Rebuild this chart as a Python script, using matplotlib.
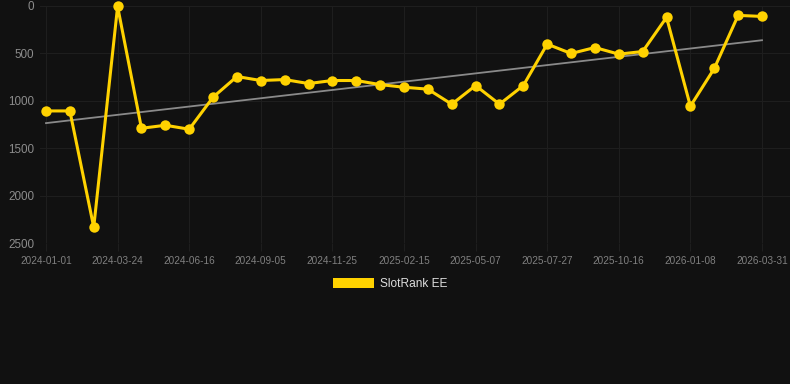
import matplotlib
matplotlib.use("Agg")
import matplotlib.pyplot as plt
from matplotlib.patches import Patch
import numpy as np

# SlotRank EE rank per period (lower = better, axis inverted)
ranks = [1107, 1107, 2333, 5, 1290, 1258, 1300, 962, 744, 786,
         776, 818, 786, 786, 829, 857, 877, 1036, 839, 1036,
         839, 402, 501, 438, 508, 480, 120, 1057, 659, 99, 110]
tick_labels = ["2024-01-01", "2024-03-24", "2024-06-16", "2024-09-05",
               "2024-11-25", "2025-02-15", "2025-05-07", "2025-07-27",
               "2025-10-16", "2026-01-08", "2026-03-31"]
y_ticks = [0, 500, 1000, 1500, 2000, 2500]
series_name = "SlotRank EE"

bg = "#111111"
gold = "#FFD200"
grid_col = "#1e1e1e"

plt.rcParams['font.family'] = ['Liberation Sans', 'DejaVu Sans']

fig = plt.figure(figsize=(7.9, 3.84), dpi=100)
fig.patch.set_facecolor(bg)
W, H = 790, 384
left, right, top, bottom = 40, 790, 6, 243
ax = fig.add_axes([left / W, 1 - bottom / H, (right - left) / W, (bottom - top) / H])
ax.set_facecolor(bg)

x = np.arange(len(ranks))
step = 716 / 30  # pixels per category
ax.set_xlim(-(46 - left) / step, 30 + (right - 762) / step)
ax.set_ylim(2500, 0)

# trend line (least squares fit)
coef = np.polyfit(x, ranks, 1)
ax.plot(x, np.polyval(coef, x), color="#8a8a8a", linewidth=1.3, zorder=2)

ax.plot(x, ranks, color=gold, linewidth=2.2, marker="o", markersize=7.5,
        markeredgewidth=0, zorder=3, clip_on=False)

ax.set_yticks(y_ticks)
ax.set_yticklabels([str(v) for v in y_ticks], fontsize=8.4, color="#8c8c8c")
ax.set_xticks(x[::3])
ax.set_xticklabels(tick_labels, fontsize=7.2, color="#808080")

ax.grid(True, color=grid_col, linewidth=0.8)
ax.tick_params(axis="x", length=6, color=grid_col, pad=3)
ax.tick_params(axis="y", length=0, pad=4)
for s in ax.spines.values():
    s.set_visible(False)

handle = Patch(facecolor=gold, edgecolor="none")
leg = fig.legend([handle], [series_name], loc="center", bbox_to_anchor=(0.5 - 5 / W, 1 - 284 / H),
                 frameon=False, fontsize=8.6, handlelength=3.4, handleheight=1.0,
                 handletextpad=0.5)
for t in leg.get_texts():
    t.set_color("#dddddd")

fig.savefig("out.png", facecolor=fig.get_facecolor())
plt.close(fig)
